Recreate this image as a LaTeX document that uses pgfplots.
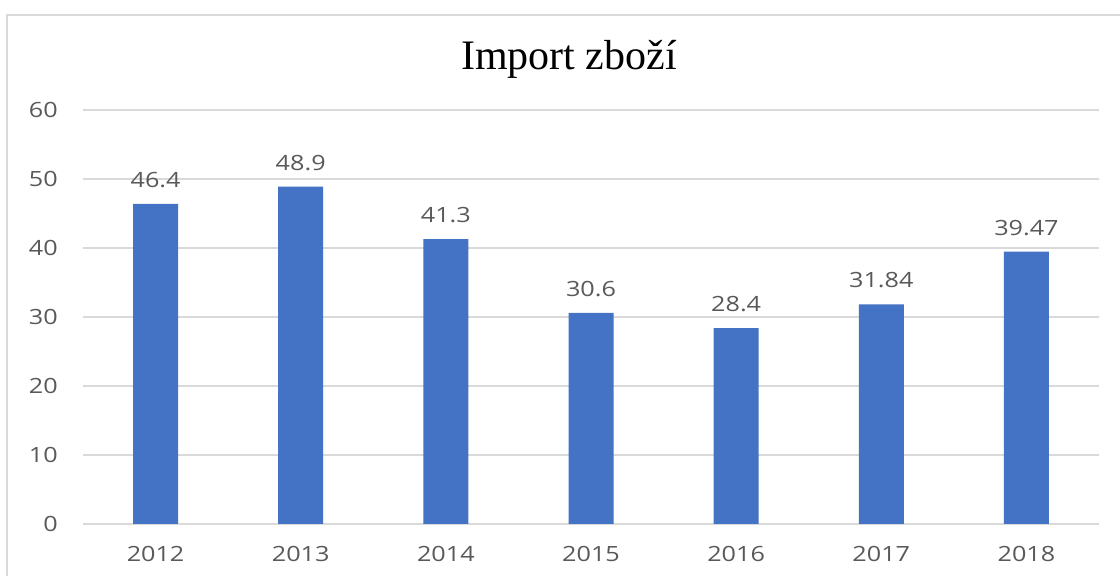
\documentclass[border=0pt]{standalone}
\usepackage{pgfplots}
\pgfplotsset{compat=1.18}
\usepackage{pgfplotstable}
\usepackage{fontspec}
\setmainfont{Open Sans}
\newfontfamily\titlefont{Liberation Serif}
\definecolor{barblue}{HTML}{4472C4}
\definecolor{txtgray}{HTML}{595959}
\definecolor{gridgray}{HTML}{D9D9D9}
\pgfplotstableread{
x y lab
0 46.4 46.4
1 48.9 48.9
2 41.3 41.3
3 30.6 30.6
4 28.4 28.4
5 31.84 31.84
6 39.47 39.47
}\importdata
\begin{document}
\begin{tikzpicture}
\path[use as bounding box] (0,0) rectangle (560pt,288pt);
\draw[gridgray, line width=1pt] (3.5pt,0) -- (3.5pt,280.5pt) -- (560pt,280.5pt);
\node[font=\titlefont\fontsize{21}{24}\selectfont, text=black] at (284.5pt,258.5pt) {Import zboží};
\begin{axis}[
  at={(41.5pt,26pt)}, anchor=south west,
  scale only axis, width=508pt, height=207pt,
  xmin=-0.5, xmax=6.5, ymin=0, ymax=60,
  ytick={0,10,...,60},
  xtick={0,...,6},
  xticklabels={2012,2013,2014,2015,2016,2017,2018},
  axis line style={draw=none},
  major tick length=0pt,
  ymajorgrids, grid style={gridgray, line width=1.1pt},
  tick label style={font=\fontsize{10.5}{12}\selectfont, text=txtgray, xscale=1.2},
  yticklabel style={xshift=-7pt},
  xticklabel style={yshift=-7.5pt},
  /pgf/number format/assume math mode=true,
  ybar, bar width=22.5pt,
  nodes near coords, point meta=explicit symbolic,
  nodes near coords style={font=\fontsize{10.5}{12}\selectfont, text=txtgray, xscale=1.2, yshift=4.5pt},
  clip=false,
]
\addplot[fill=barblue, draw=none] table[x=x, y=y, meta=lab] {\importdata};
\end{axis}
\end{tikzpicture}
\end{document}
